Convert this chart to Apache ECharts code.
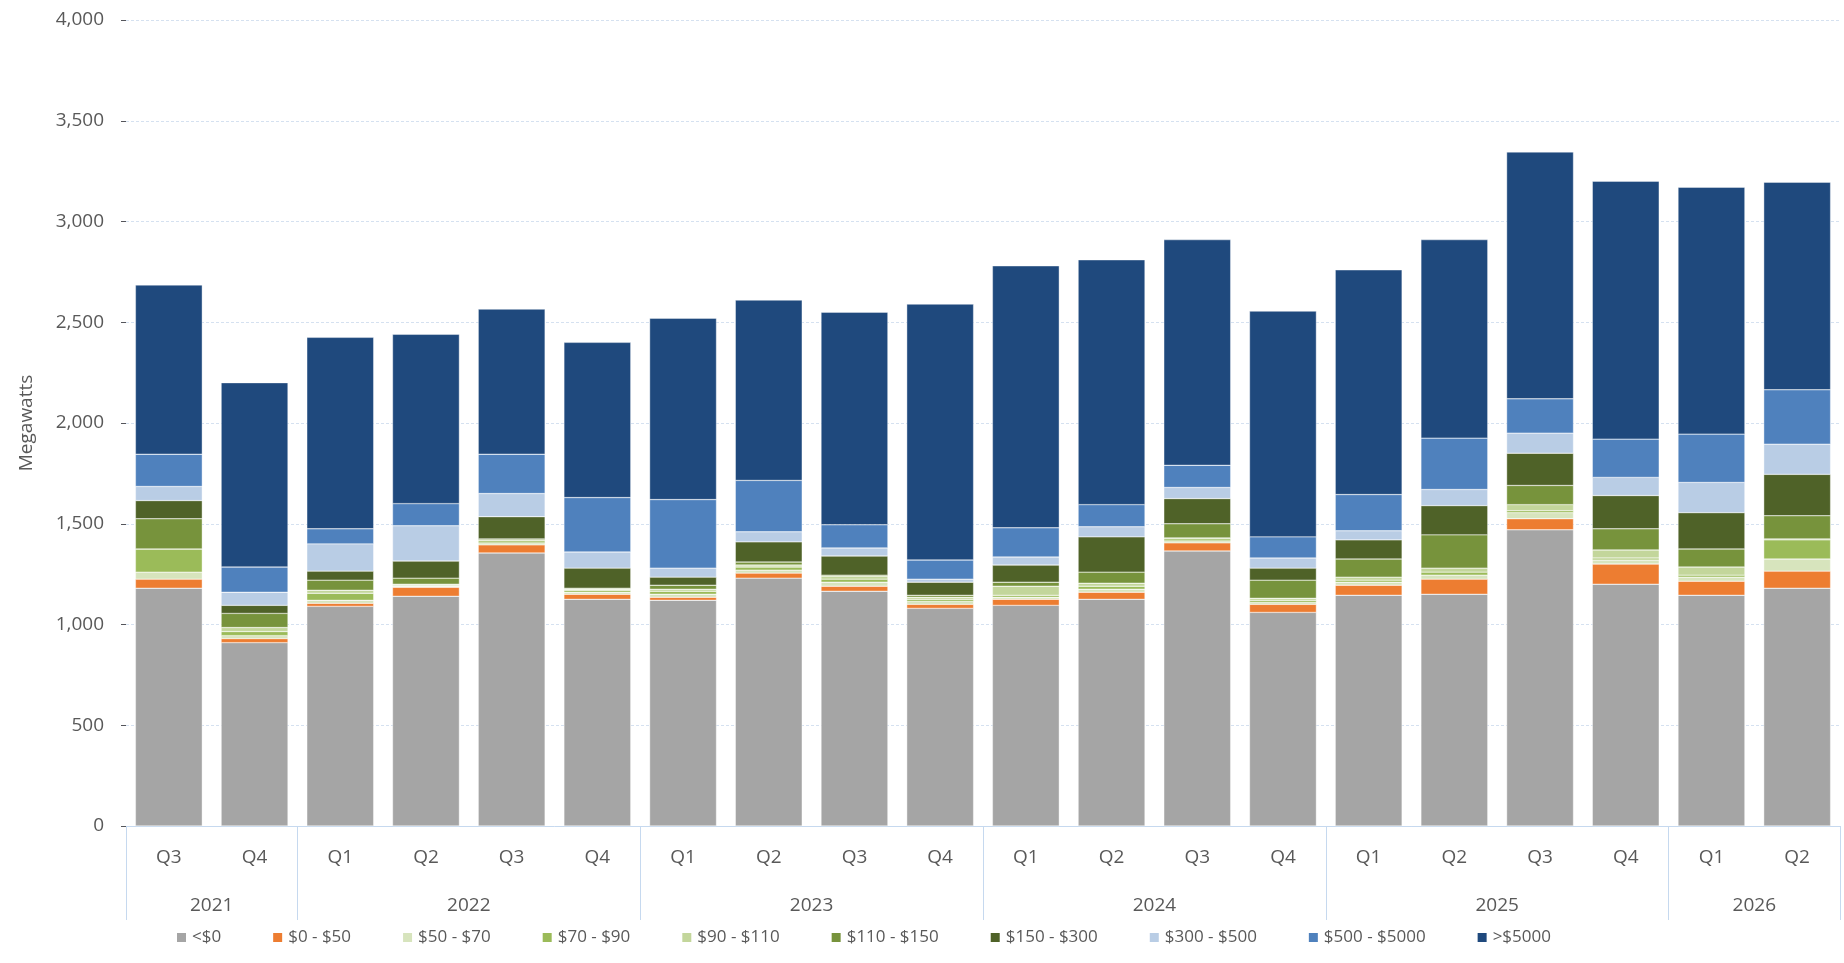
<!DOCTYPE html>
<html>
<head>
<meta charset="utf-8">
<script src="https://cdn.jsdelivr.net/npm/echarts@6/dist/echarts.min.js"></script>
<style>html,body{margin:0;padding:0;background:#fff}#main{width:1844px;height:963px}</style>
</head>
<body>
<div id="main"></div>
<script>
var quarters = ["Q3","Q4","Q1","Q2","Q3","Q4","Q1","Q2","Q3","Q4","Q1","Q2","Q3","Q4","Q1","Q2","Q3","Q4","Q1","Q2"];
var years = ["2021","2022","2023","2024","2025","2026"];
var yearCenters = [1, 4, 8, 12, 16, 19];
var yearBounds = [0, 2, 6, 10, 14, 18, 20];
var names = ["<$0","$0 - $50","$50 - $70","$70 - $90","$90 - $110","$110 - $150","$150 - $300","$300 - $500","$500 - $5000",">$5000"];
var colors = ["#a5a5a5","#ed7d31","#d7e4bd","#9bbb59","#c3d69b","#77933c","#4f6228","#b9cde5","#4f81bd","#1f497d"];

var below0 =   [1180, 910,1090,1140,1355,1125,1120,1230,1165,1080,1095,1125,1365,1060,1145,1150,1470,1200,1145,1180];
var r0_50 =    [  45,  20,  15,  45,  40,  25,  15,  25,  25,  20,  30,  35,  40,  40,  50,  75,  55, 100,  70,  85];
var r50_70 =   [  35,  15,  15,   5,  10,  10,  15,  15,  20,  15,  10,  15,  10,  10,  15,  20,  30,  20,  20,  60];
var r70_90 =   [ 115,  20,  35,   5,  10,  10,  15,  15,  15,  10,  10,  15,  10,  10,  10,  15,  10,  10,  10,  95];
var r90_110 =  [   0,  20,  15,   5,   5,   5,  10,  10,  15,  10,  45,  15,   5,  10,  15,  20,  30,  40,  40,   5];
var r110_150 = [ 150,  70,  50,  30,   5,   5,  20,  15,   5,  10,  20,  55,  70,  90,  90, 165,  95, 105,  90, 115];
var r150_300 = [  90,  40,  45,  85, 110, 100,  40, 100,  95,  65,  85, 175, 125,  60,  95, 145, 160, 165, 180, 205];
var r300_500 = [  70,  65, 135, 175, 115,  80,  45,  50,  40,  15,  40,  50,  55,  50,  45,  80, 100,  90, 150, 150];
var r500_5000 =[ 160, 125,  75, 110, 195, 270, 340, 255, 115,  95, 145, 110, 110, 105, 180, 255, 170, 190, 240, 270];
var above5000 =[ 840, 915, 950, 840, 720, 770, 900, 895,1055,1270,1300,1215,1120,1120,1115, 985,1225,1280,1225,1030];
var seriesData = [below0, r0_50, r50_70, r70_90, r90_110, r110_150, r150_300, r300_500, r500_5000, above5000];

var font = "Open Sans";
var txt = "#595959";
var series = [];
for (var i = 0; i < names.length; i++) {
    series.push({
        name: names[i],
        type: "bar",
        stack: "mw",
        barCategoryGap: "22%",
        itemStyle: { color: colors[i], borderColor: "#fff", borderWidth: 0.4 },
        data: seriesData[i]
    });
}

var myChart = echarts.init(document.getElementById('main'));
var option = {
    animation: false,
    textStyle: { fontFamily: font },
    grid: { left: 126, right: 4, top: 20, bottom: 137 },
    legend: {
        bottom: 12, left: 170, right: 150,
        itemWidth: 11, itemHeight: 11, itemGap: 50,
        icon: "rect",
        textStyle: { color: txt, fontSize: 17, fontFamily: font },
        data: names
    },
    xAxis: [{
        type: "category",
        data: quarters,
        axisLine: { lineStyle: { color: "#c6d9ef" } },
        axisTick: { show: false },
        axisLabel: { color: txt, fontSize: 19, margin: 22 }
    }, {
        type: "value",
        position: "bottom",
        min: 0, max: 20,
        axisLine: { show: false },
        splitLine: { show: false },
        axisTick: { show: true, customValues: yearBounds, length: 94, lineStyle: { color: "#c6d9ef" } },
        axisLabel: {
            customValues: yearCenters, color: txt, fontSize: 19, margin: 70,
            formatter: function (v) { return years[yearCenters.indexOf(v)]; }
        }
    }],
    yAxis: {
        type: "value",
        min: 0, max: 4000, interval: 500,
        name: "Megawatts",
        nameLocation: "middle",
        nameGap: 90,
        nameTextStyle: { color: txt, fontSize: 19 },
        axisLine: { show: false },
        axisLabel: { color: txt, fontSize: 19, margin: 22,
            formatter: function (v) { return v.toLocaleString("en-US"); } },
        splitLine: { lineStyle: { color: "#d5e1f0", type: [3, 2] } }
    },
    series: series
};
myChart.setOption(option);
window.addEventListener('resize', function () {
    myChart.resize();
});
</script>
</body>
</html>
